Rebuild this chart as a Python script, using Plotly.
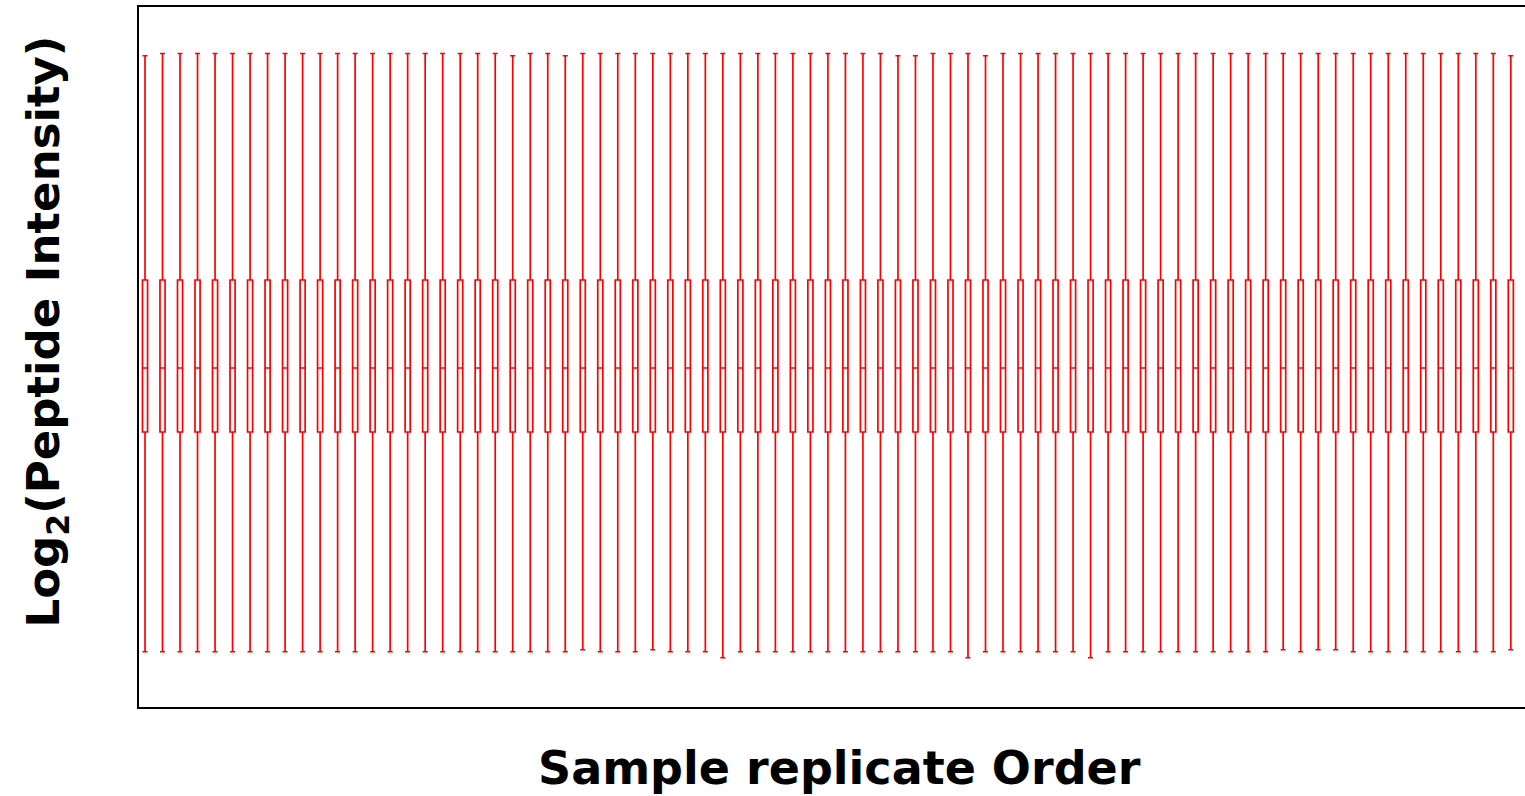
import plotly.graph_objects as go

# Sample replicate order (1..79)
samples = list(range(1, 80))

# Per-sample box statistics of log2 peptide intensity
upper_fence = [
    34.05, 34.14, 34.14, 34.14, 34.14, 34.14, 34.14, 34.14, 34.14, 34.14,
    34.14, 34.14, 34.14, 34.14, 34.14, 34.14, 34.14, 34.14, 34.14, 34.14,
    34.14, 34.05, 34.14, 34.14, 34.05, 34.14, 34.14, 34.14, 34.14, 34.14,
    34.14, 34.14, 34.14, 34.14, 34.14, 34.14, 34.14, 34.14, 34.14, 34.14,
    34.14, 34.14, 34.14, 34.05, 34.05, 34.14, 34.14, 34.14, 34.05, 34.14,
    34.14, 34.14, 34.14, 34.14, 34.14, 34.14, 34.14, 34.14, 34.14, 34.14,
    34.14, 34.14, 34.14, 34.14, 34.14, 34.14, 34.14, 34.14, 34.14, 34.14,
    34.14, 34.14, 34.14, 34.14, 34.14, 34.14, 34.14, 34.14, 34.05,
]
q3 = [
    25.08, 25.08, 25.08, 25.08, 25.08, 25.08, 25.08, 25.08, 25.08, 25.08,
    25.08, 25.08, 25.08, 25.08, 25.08, 25.08, 25.08, 25.08, 25.08, 25.08,
    25.08, 25.08, 25.08, 25.08, 25.08, 25.08, 25.08, 25.08, 25.08, 25.08,
    25.08, 25.08, 25.08, 25.08, 25.08, 25.08, 25.08, 25.08, 25.08, 25.08,
    25.08, 25.08, 25.08, 25.08, 25.08, 25.08, 25.08, 25.08, 25.08, 25.08,
    25.08, 25.08, 25.08, 25.08, 25.08, 25.08, 25.08, 25.08, 25.08, 25.08,
    25.08, 25.08, 25.08, 25.08, 25.08, 25.08, 25.08, 25.08, 25.08, 25.08,
    25.08, 25.08, 25.08, 25.08, 25.08, 25.08, 25.08, 25.08, 25.08,
]
median = [
    21.56, 21.56, 21.56, 21.56, 21.56, 21.56, 21.56, 21.56, 21.56, 21.56,
    21.56, 21.56, 21.56, 21.56, 21.56, 21.56, 21.56, 21.56, 21.56, 21.56,
    21.56, 21.56, 21.56, 21.56, 21.56, 21.56, 21.56, 21.56, 21.56, 21.56,
    21.56, 21.56, 21.56, 21.56, 21.56, 21.56, 21.56, 21.56, 21.56, 21.56,
    21.56, 21.56, 21.56, 21.56, 21.56, 21.56, 21.56, 21.56, 21.56, 21.56,
    21.56, 21.56, 21.56, 21.56, 21.56, 21.56, 21.56, 21.56, 21.56, 21.56,
    21.56, 21.56, 21.56, 21.56, 21.56, 21.56, 21.56, 21.56, 21.56, 21.56,
    21.56, 21.56, 21.56, 21.56, 21.56, 21.56, 21.56, 21.56, 21.56,
]
q1 = [
    19.0, 19.0, 19.0, 19.0, 19.0, 19.0, 19.0, 19.0, 19.0, 19.0,
    19.0, 19.0, 19.0, 19.0, 19.0, 19.0, 19.0, 19.0, 19.0, 19.0,
    19.0, 19.0, 19.0, 19.0, 19.0, 19.0, 19.0, 19.0, 19.0, 19.0,
    19.0, 19.0, 19.0, 19.0, 19.0, 19.0, 19.0, 19.0, 19.0, 19.0,
    19.0, 19.0, 19.0, 19.0, 19.0, 19.0, 19.0, 19.0, 19.0, 19.0,
    19.0, 19.0, 19.0, 19.0, 19.0, 19.0, 19.0, 19.0, 19.0, 19.0,
    19.0, 19.0, 19.0, 19.0, 19.0, 19.0, 19.0, 19.0, 19.0, 19.0,
    19.0, 19.0, 19.0, 19.0, 19.0, 19.0, 19.0, 19.0, 19.0,
]
lower_fence = [
    10.21, 10.21, 10.21, 10.21, 10.21, 10.21, 10.21, 10.21, 10.21, 10.21,
    10.21, 10.21, 10.21, 10.21, 10.21, 10.21, 10.21, 10.21, 10.21, 10.21,
    10.21, 10.21, 10.21, 10.21, 10.21, 10.29, 10.21, 10.21, 10.21, 10.29,
    10.21, 10.21, 10.21, 9.97, 10.21, 10.21, 10.21, 10.21, 10.21, 10.21,
    10.21, 10.21, 10.21, 10.21, 10.21, 10.21, 10.21, 9.97, 10.21, 10.21,
    10.21, 10.21, 10.21, 10.21, 9.97, 10.21, 10.21, 10.21, 10.21, 10.21,
    10.21, 10.21, 10.21, 10.21, 10.21, 10.29, 10.21, 10.29, 10.29, 10.21,
    10.21, 10.21, 10.21, 10.21, 10.21, 10.21, 10.21, 10.21, 10.29,
]

FONT_FAMILY = "Comic Sans MS, DejaVu Sans"

fig = go.Figure()
fig.add_trace(go.Box(
    x=samples,
    q1=q1,
    median=median,
    q3=q3,
    lowerfence=lower_fence,
    upperfence=upper_fence,
    width=0.29,
    whiskerwidth=1,
    line=dict(color="red", width=1.7),
    fillcolor="rgba(0,0,0,0)",
    boxpoints=False,
    showlegend=False,
    hoverinfo="skip",
))

fig.update_layout(
    width=1525,
    height=796,
    margin=dict(l=139, r=0, t=7, b=89),
    paper_bgcolor="white",
    plot_bgcolor="white",
    xaxis=dict(range=[0.657, 79.81], showticklabels=False, ticks="",
               showgrid=False, zeroline=False, showline=True,
               linecolor="black", linewidth=2, mirror=True),
    yaxis=dict(range=[8, 36], showticklabels=False, ticks="",
               showgrid=False, zeroline=False, showline=True,
               linecolor="black", linewidth=2, mirror=False),
    annotations=[
        dict(text="Sample replicate Order", xref="paper", yref="paper",
             x=0.5054, y=-0.087, xanchor="center", yanchor="middle",
             showarrow=False,
             font=dict(family=FONT_FAMILY, size=46, color="black",
                       weight="bold")),
        dict(text="Log<sub>2</sub>(Peptide Intensity)", xref="paper",
             yref="paper", x=-0.0671, y=0.5364, xanchor="center",
             yanchor="middle", textangle=-90, showarrow=False,
             font=dict(family=FONT_FAMILY, size=45, color="black",
                       weight="bold")),
    ],
)

fig.write_html("out.html")
